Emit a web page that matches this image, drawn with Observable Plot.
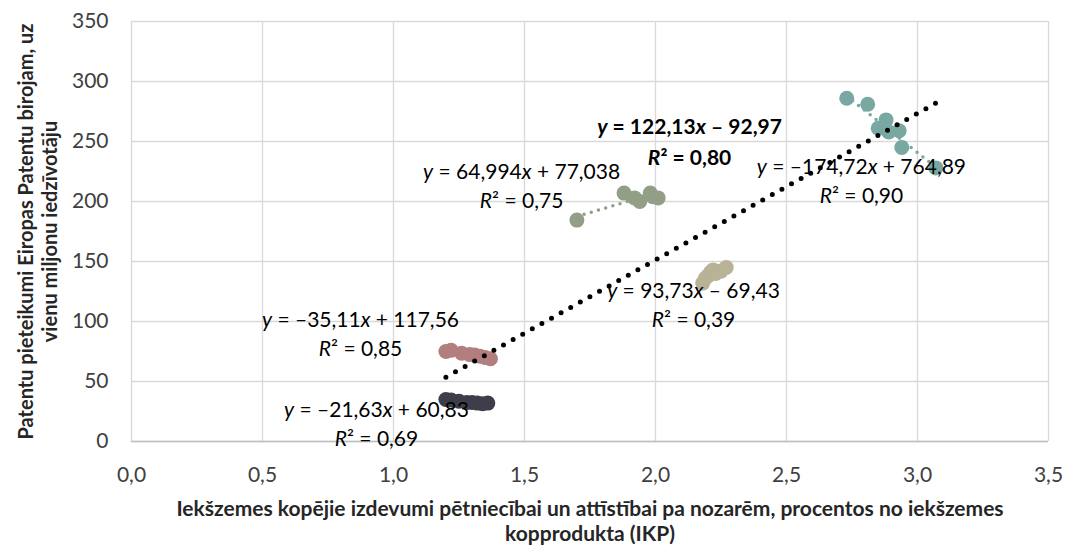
<!DOCTYPE html>
<html><head><meta charset="utf-8">
<script src="https://cdn.jsdelivr.net/npm/d3@7"></script>
<script src="https://cdn.jsdelivr.net/npm/@observablehq/plot@0.6"></script>
<style>body{margin:0;background:#fff}</style>
</head><body><div id="chart"></div>
<script>
// Series (no legend in the original)
const seriesKeys = ["A", "B", "C", "D", "E"];
const seriesColors = ["#3d3e4a", "#b27e7e", "#929f86", "#b8b396", "#79a8a3"];

const xA = [1.20, 1.22, 1.25, 1.28, 1.30, 1.32, 1.34, 1.36];
const yA = [35, 34.5, 33.5, 32.5, 32.5, 32, 31.5, 32];
const xB = [1.20, 1.22, 1.26, 1.29, 1.31, 1.33, 1.35, 1.37];
const yB = [75, 76, 73.5, 72.5, 72, 71, 70, 69];
const xC = [1.70, 1.88, 1.92, 1.94, 1.98, 1.99, 2.01];
const yC = [184.5, 207, 203, 200, 207, 204, 203];
const xD = [2.18, 2.19, 2.20, 2.21, 2.22, 2.23, 2.25, 2.27];
const yD = [132, 136, 138, 141, 143, 140, 142, 145];
const xE = [2.73, 2.81, 2.85, 2.88, 2.89, 2.93, 2.94, 3.07];
const yE = [286, 281, 261, 268, 258, 259, 245, 228];

// Trendline equations shown in the chart
const trendSlopes = [-21.63, -35.11, 64.994, 93.73, -174.72];
const trendIntercepts = [60.83, 117.56, 77.038, -69.43, 764.89];
const eqLabels = ["y = –21,63x + 60,83", "y = –35,11x + 117,56", "y = 64,994x + 77,038", "y = 93,73x – 69,43", "y = –174,72x + 764,89"];
const r2Labels = ["R² = 0,69", "R² = 0,85", "R² = 0,75", "R² = 0,39", "R² = 0,90"];
const labelX = [0.935, 0.874, 1.489, 2.145, 2.786];
const labelY = [25.8, 100.8, 224.2, 125, 228.3];

const totalSlope = 122.13, totalIntercept = -92.97;
const totalEq = "y = 122,13x – 92,97";
const totalR2 = "R² = 0,80";
const totalLabelX = 2.13, totalLabelY = 261.7;

const xTicks = [0, 0.5, 1, 1.5, 2, 2.5, 3, 3.5];
const yTicks = [0, 50, 100, 150, 200, 250, 300, 350];
const xTitle = "Iekšzemes kopējie izdevumi pētniecībai un attīstībai pa nozarēm, procentos no iekšzemes\nkopprodukta (IKP)";
const yTitle = "Patentu pieteikumi Eiropas Patentu birojam, uz\nvienu miljonu iedzīvotāju";

// Build tables
const seriesX = [xA, xB, xC, xD, xE];
const seriesY = [yA, yB, yC, yD, yE];
const points = seriesKeys.flatMap((k, i) => seriesX[i].map((x, j) => ({key: k, x, y: seriesY[i][j]})));
const trendLines = seriesKeys.flatMap((k, i) => {
  const [x0, x1] = d3.extent(seriesX[i]);
  return [x0, x1].map(x => ({key: k, x, y: trendSlopes[i] * x + trendIntercepts[i]}));
});
const [tx0, tx1] = d3.extent(points, d => d.x);
const totalLine = [tx0, tx1].map(x => ({x, y: totalSlope * x + totalIntercept}));
const labels = seriesKeys.map((k, i) => ({key: k, x: labelX[i], y: labelY[i], eq: eqLabels[i], r2: r2Labels[i]}));
const totalLabel = [{x: totalLabelX, y: totalLabelY, eq: totalEq, r2: totalR2}];

const color = {domain: seriesKeys, range: seriesColors};

const svg = Plot.plot({
  width: 1069, height: 550,
  marginLeft: 131, marginRight: 21, marginTop: 21, marginBottom: 109,
  style: {fontFamily: "Lato, sans-serif", fontSize: "21px", color: "#404040", background: "#fff"},
  x: {domain: [0, 3.5]},
  y: {domain: [0, 350]},
  color,
  marks: [
    Plot.gridX(xTicks, {stroke: "#d9d9d9", strokeOpacity: 1, strokeWidth: 1.3}),
    Plot.gridY(yTicks, {stroke: "#d9d9d9", strokeOpacity: 1, strokeWidth: 1.3}),
    Plot.ruleY([0], {stroke: "#bfbfbf", strokeWidth: 1.5}),
    Plot.axisX({ticks: xTicks, tickFormat: d => d.toFixed(1).replace(".", ","), tickSize: 0, tickPadding: 26, label: null}),
    Plot.axisY({ticks: yTicks, tickSize: 0, tickPadding: 23, label: null}),
    Plot.dot(points, {x: "x", y: "y", fill: "key", r: 7.5, stroke: "none"}),
    Plot.line(trendLines, {x: "x", y: "y", z: "key", stroke: "key", strokeWidth: 3.5, strokeDasharray: "0,7.5", strokeLinecap: "round"}),
    Plot.line(totalLine, {x: "x", y: "y", stroke: "#000", strokeWidth: 5, strokeDasharray: "0,11", strokeLinecap: "round"}),
    Plot.text(labels, {x: "x", y: "y", text: "eq", fill: "#000", fontSize: 21}),
    Plot.text(labels, {x: "x", y: "y", text: "r2", fill: "#000", fontSize: 21, dy: 29}),
    Plot.text(totalLabel, {x: "x", y: "y", text: "eq", fill: "#000", fontSize: 21, fontWeight: "bold"}),
    Plot.text(totalLabel, {x: "x", y: "y", text: "r2", fill: "#000", fontSize: 21, fontWeight: "bold", dy: 31}),
    Plot.text([yTitle], {frameAnchor: "left", textAnchor: "middle", lineAnchor: "middle", rotate: -90, dx: -94, fontWeight: "bold", fontSize: 20, fill: "#262626", lineHeight: 1.2}),
    Plot.text([xTitle], {frameAnchor: "bottom", textAnchor: "middle", lineAnchor: "middle", dy: 79, fontWeight: "bold", fontSize: 21, fill: "#262626", lineHeight: 1.17})
  ]
});

// italicise the variables in the trendline labels
d3.select(svg).selectAll("text").each(function() {
  const t = d3.select(this);
  if (!t.select("tspan").empty()) return;
  const s = t.text();
  if (!/^(y|R²) = /.test(s)) return;
  t.text(null);
  s.split(/([yxR])/).filter(p => p !== "").forEach(p => {
    const ts = t.append("tspan").text(p);
    if (/^[yxR]$/.test(p)) ts.attr("font-style", "italic");
  });
});

svg.style.display = "block";
document.getElementById("chart").appendChild(svg);
</script>
</body></html>
